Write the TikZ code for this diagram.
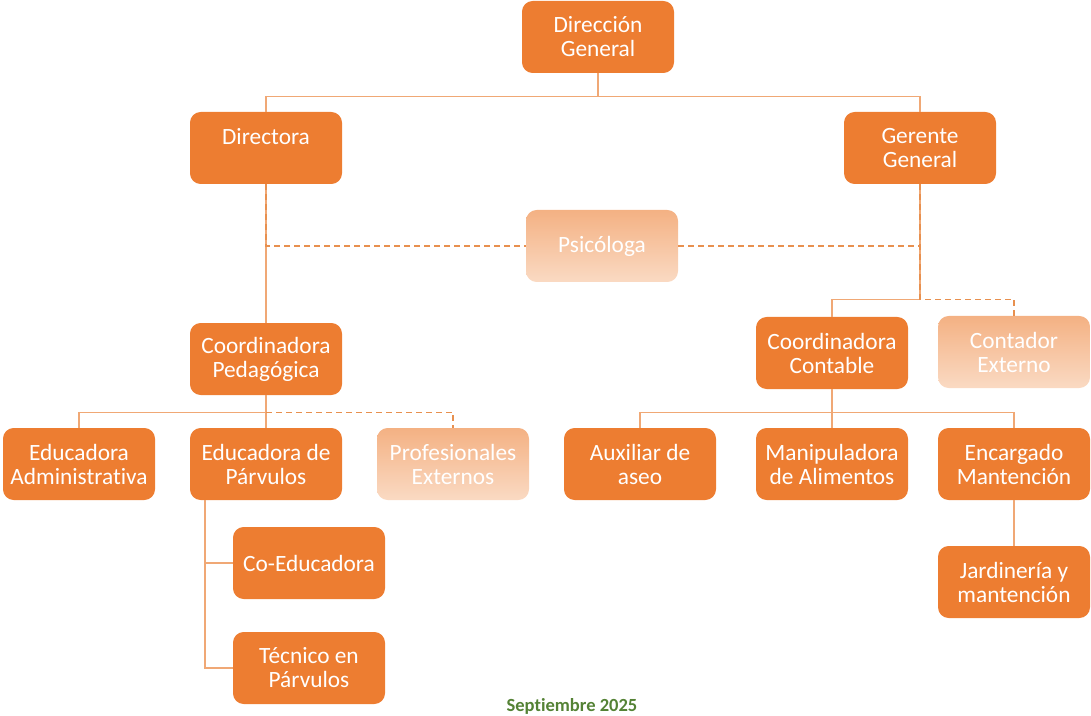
\documentclass[tikz,border=0pt]{standalone}
\usepackage{fontspec}
\setmainfont{Carlito}[Ligatures=NoCommon]
\usetikzlibrary{calc}
\definecolor{naranja}{HTML}{ED7D31}
\definecolor{naranjaclaro}{HTML}{F4B183}
\definecolor{naranjapalido}{HTML}{FADAC3}
\definecolor{linea}{HTML}{F0A875}
\definecolor{lineados}{HTML}{E8904F}
\definecolor{verde}{HTML}{548235}
\tikzset{
    cargo/.style={
        rectangle,
        rounded corners=8pt, % esquinas redondeadas
        fill=naranja,
        text=white,
        minimum width=114pt,
        minimum height=54pt,
        inner sep=0,
        align=center,
        font=\fontsize{17.5}{18}\selectfont
    },
    externo/.style={
        cargo,
        fill=none,
        top color=naranjaclaro, % degradado hacia abajo
        bottom color=naranjapalido
    },
    enlace/.style={draw=linea, line width=1.1pt},
    apoyo/.style={draw=lineados, line width=1.1pt, dash pattern=on 4.5pt off 3pt}
}

\begin{document}
\begin{tikzpicture}[x=0.75pt, y=-0.75pt]
            \useasboundingbox (0,0) rectangle (1091,716);
            % cargos
            \node[cargo] (dirgen) at (598,37) {Dirección\\General};
            \node[cargo] (directora) at (266,148) {Directora\\\mbox{}};
            \node[cargo] (gerente) at (920,148) {Gerente\\General};
            \node[externo] (psicologa) at (602,246) {Psicóloga};
            \node[cargo] (coordped) at (266,359) {Coordinadora\\Pedagógica};
            \node[cargo] (coordcont) at (832,353) {Coordinadora\\Contable};
            \node[externo] (contador) at (1014,352) {Contador\\Externo};
            \node[cargo] (eduadm) at (79,464) {Educadora\\Administrativa};
            \node[cargo] (edupar) at (266,464) {Educadora de\\Párvulos};
            \node[externo] (profext) at (453,464) {Profesionales\\Externos};
            \node[cargo] (auxaseo) at (640,464) {Auxiliar de\\aseo};
            \node[cargo] (manip) at (832,464) {Manipuladora\\de Alimentos};
            \node[cargo] (encarg) at (1014,464) {Encargado\\Mantención};
            \node[cargo] (jardin) at (1014,582) {Jardinería y\\mantención};
            \node[cargo] (coedu) at (309,563) {Co-Educadora};
            \node[cargo] (tecnico) at (309,668) {Técnico en\\Párvulos};
            \node[text=verde, font=\fontsize{13.9}{15}\selectfont\bfseries] (fecha) at (572,706) {Septiembre 2025};

            % lineas
            \draw[enlace] (dirgen.south) -- ++(0,23) coordinate (t1) -| (directora.north);
            \draw[enlace] (t1) -| (gerente.north);
            \draw[enlace] (directora) -- (coordped);
            \draw[apoyo] (directora.south) |- (psicologa.west);
            \draw[apoyo] (psicologa.east) -| (gerente.south);
            \draw[enlace] (gerente.south) -- ++(0,115) coordinate (t2) -| (coordcont.north);
            \draw[apoyo] (gerente.south) -- (t2) -| (contador.north);
            \draw[enlace] (coordped.south) -- ++(0,17) coordinate (t3) -| (eduadm.north);
            \draw[enlace] (t3) -- (edupar.north);
            \draw[apoyo] (t3) -| (profext.north);
            \draw[enlace] (coordcont.south) -- ++(0,23) coordinate (t4) -| (auxaseo.north);
            \draw[enlace] (t4) -- (manip.north);
            \draw[enlace] (t4) -| (encarg.north);
            \draw[enlace] (encarg) -- (jardin);
            \coordinate (t5) at (205,500);
            \draw[enlace] (t5) |- (tecnico.west);
            \draw[enlace] (t5 |- coedu.west) -- (coedu.west);
\end{tikzpicture}
\end{document}
